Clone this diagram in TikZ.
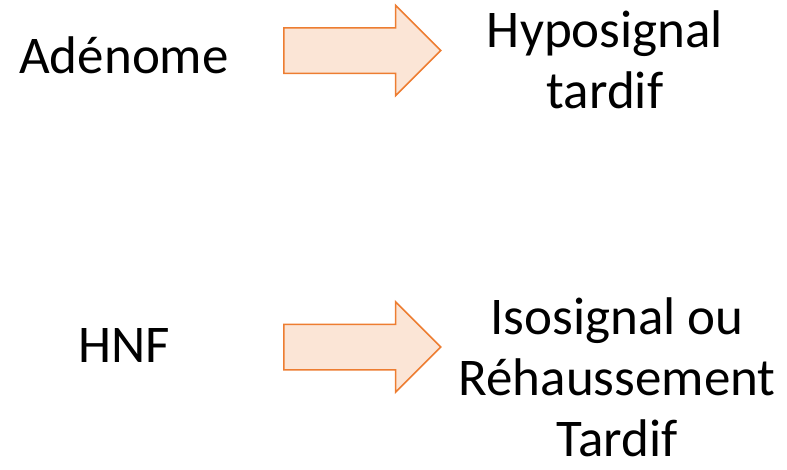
\documentclass[tikz,border=0pt]{standalone}
\usepackage{fontspec}
\setmainfont{Carlito}
\usetikzlibrary{shapes,arrows,positioning,calc}

\definecolor{accentorange}{HTML}{ED7D31}
\definecolor{peach}{HTML}{FBE5D6}

\begin{document}
\begin{tikzpicture}[
    x=1pt, y=-1pt,
    label/.style={
        align=center,
        inner sep=0pt,
        font=\fontsize{53}{61}\selectfont
    },
    bigarrow/.style={
        single arrow,
        draw=accentorange,
        fill=peach,
        line width=1.5pt,
        inner xsep=0pt,
        inner ysep=22pt,
        minimum height=157pt,
        single arrow head extend=22.5pt,
        single arrow tip angle=90,
        anchor=tail
    }
]

    % Frame
    \useasboundingbox (0,0) rectangle (787,469);

    % Top row
    \node [label] (adenome) at (124,55) {Adénome};
    \node [bigarrow] (arrow_top) at (283,50.5) {};
    \node [label] (hypo) at (605,60) {Hyposignal\\tardif};

    % Bottom row
    \node [label] (hnf) at (124,345) {HNF};
    \node [bigarrow] (arrow_bottom) at (283,347) {};
    \node [label] (iso) at (617,377) {Isosignal ou\\Réhaussement\\Tardif};

\end{tikzpicture}
\end{document}
